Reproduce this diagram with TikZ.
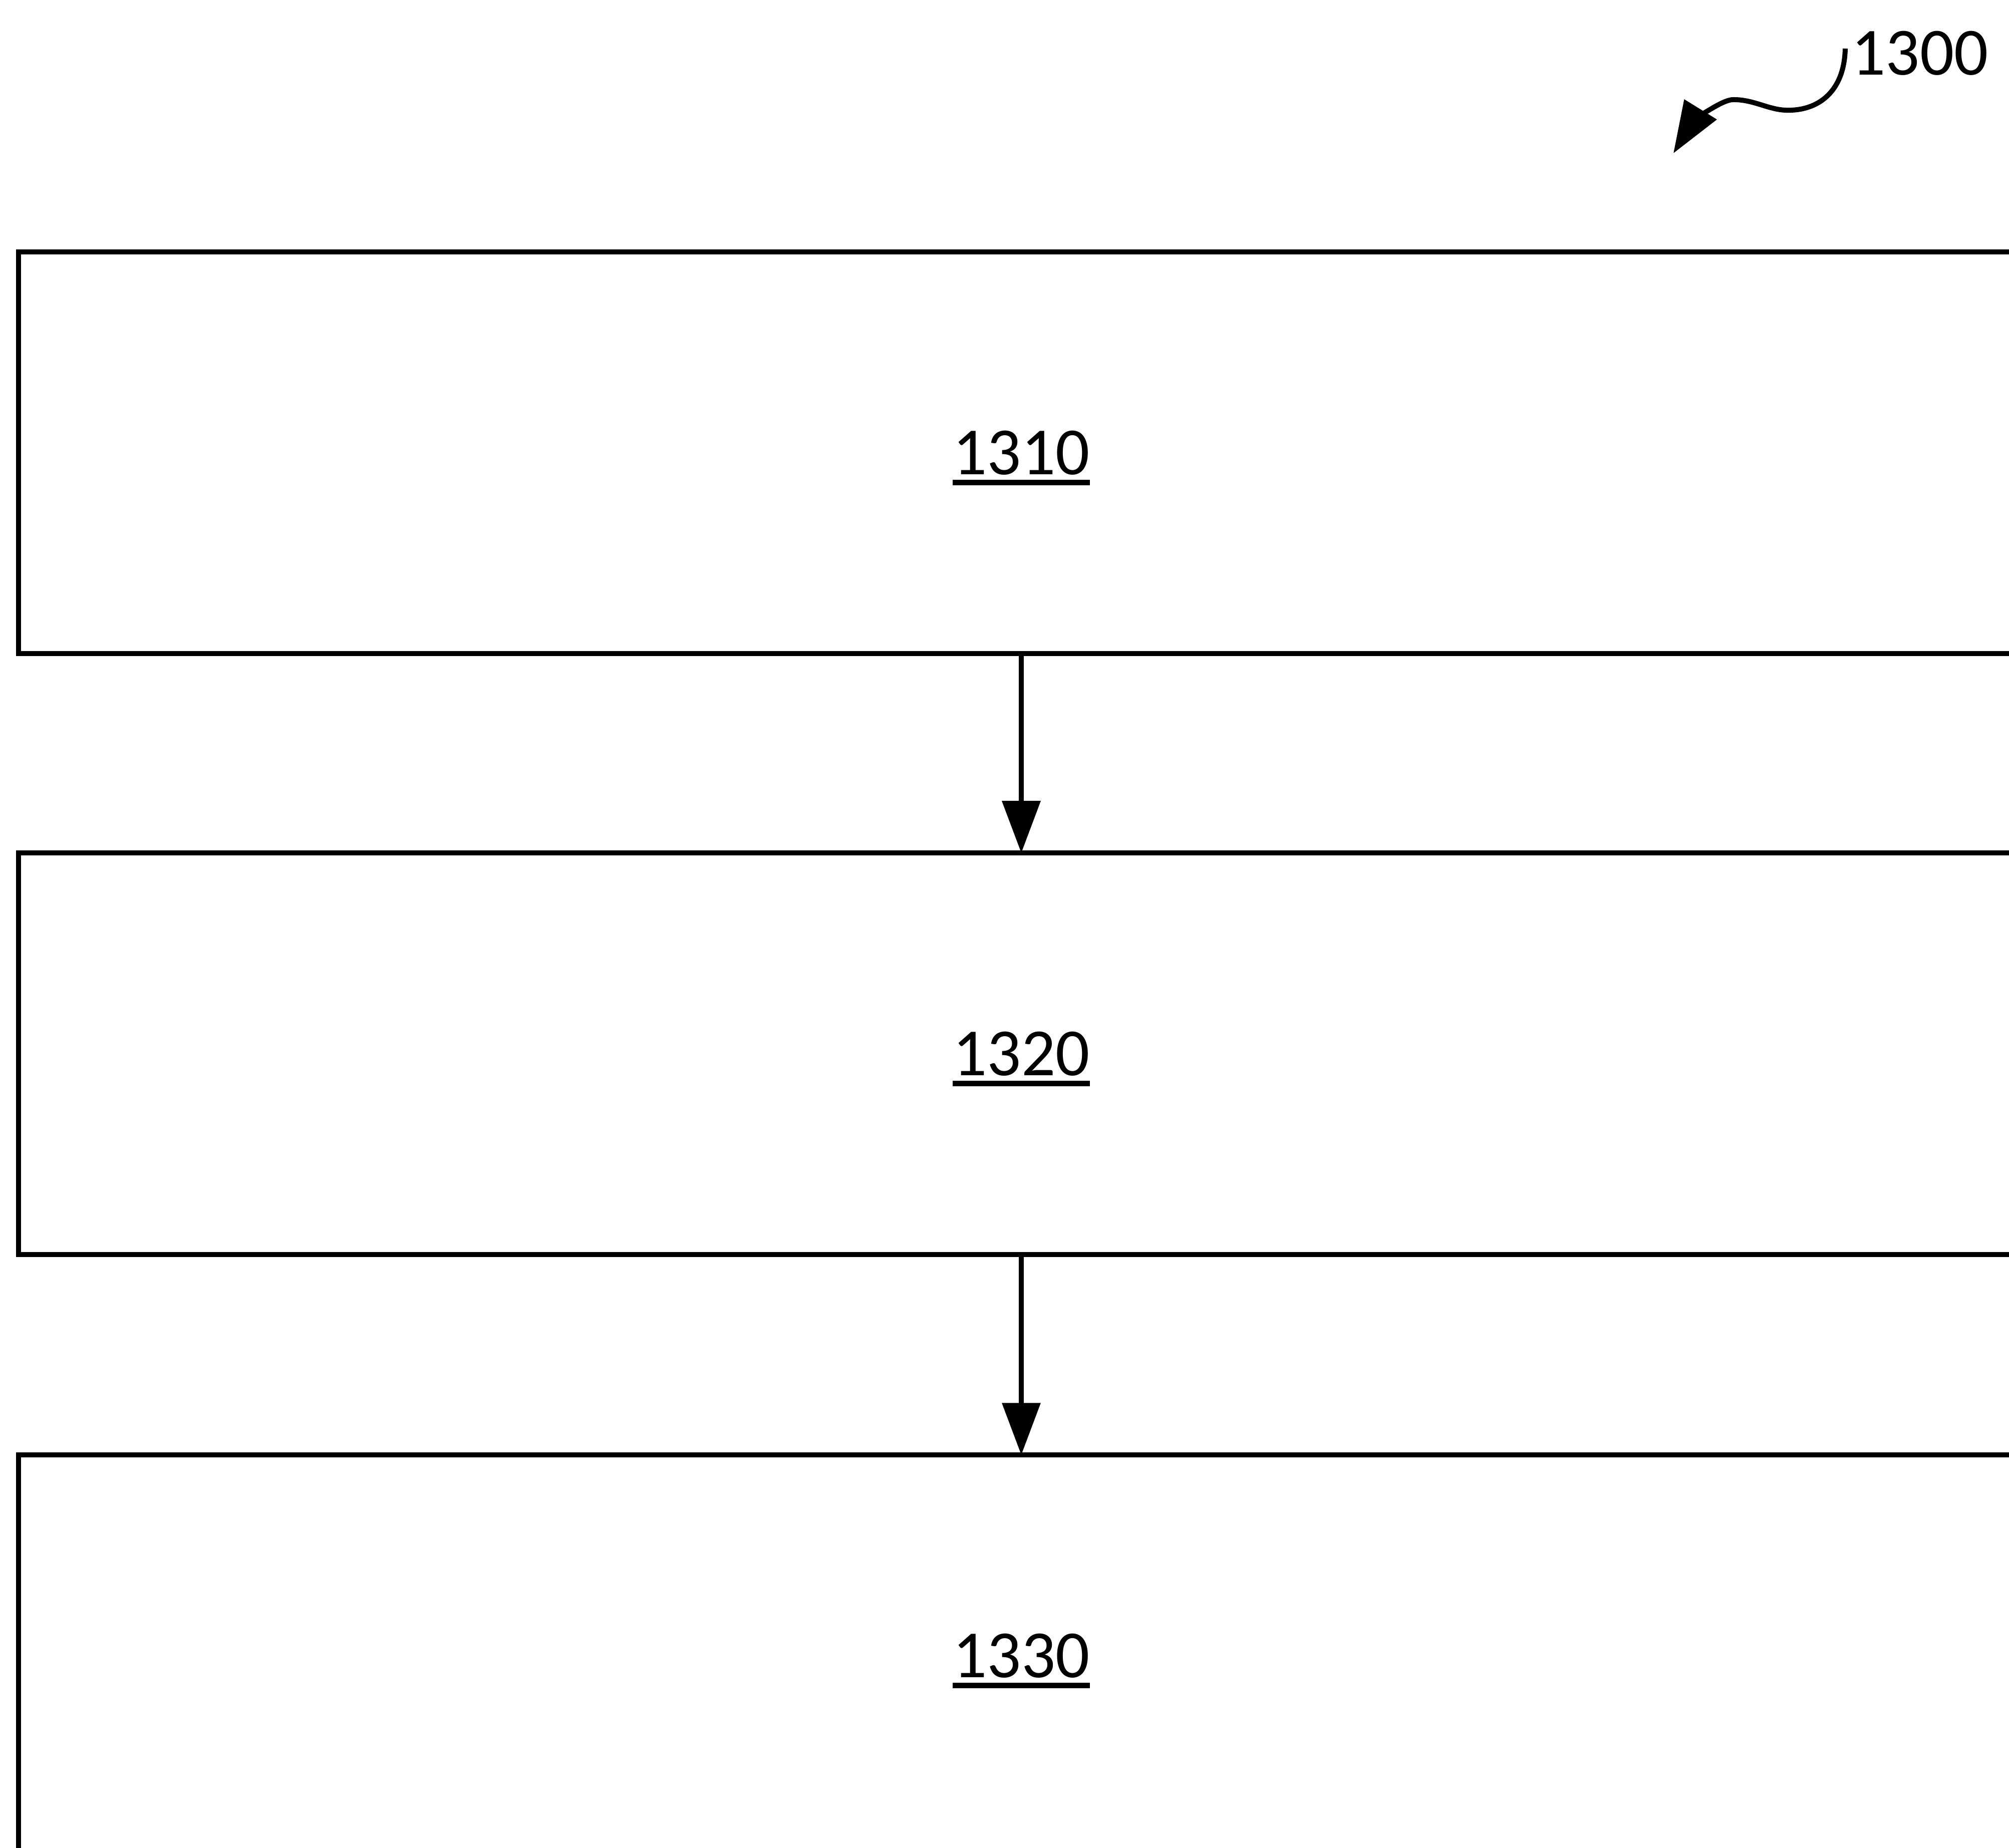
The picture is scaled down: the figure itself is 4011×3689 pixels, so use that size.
\documentclass[tikz,border=0pt]{standalone}
\usepackage{fontspec}
\setmainfont{Carlito}
\usetikzlibrary{arrows.meta}
\newcommand\ulnum[1]{\setbox0\hbox{#1}\leavevmode\rlap{\smash{\rule[-0.22cm]{\wd0}{0.11cm}}}\box0}
\tikzset{
  stepbox/.style={draw=black, line width=0.1cm, rectangle, inner sep=0pt, outer sep=0pt,
    minimum width=40.02cm, minimum height=8.01cm,
    font=\fontsize{38.3}{46}\selectfont},
  conn/.style={draw=black, line width=0.1cm, -{Triangle[length=1.04cm,width=0.75cm]}},
  refarrow/.style={draw=black, line width=0.1cm, -{Triangle[length=1.03cm,width=0.74cm]}},
  reflabel/.style={inner sep=0pt, outer sep=0pt, font=\fontsize{38.3}{46}\selectfont}
}
\begin{document}
\begin{tikzpicture}[x=0.01cm,y=-0.01cm]
\useasboundingbox (0,0) rectangle (4011,3689);
\fill[white] (0,0) rectangle (4011,3689);
\clip (0,0) rectangle (4011,3689);
\node[stepbox] (b1) at (2039,904) {\ulnum{1310}};
\node[stepbox] (b2) at (2039,2104) {\ulnum{1320}};
\node[stepbox] (b3) at (2039,3306) {\ulnum{1330}};
\draw[conn] (b1.south) -- (b2.north);
\draw[conn] (b2.south) -- (b3.north);
\node[reflabel] (lbl) at (3833,106) {1300};
\coordinate (sq0) at (3684,97);
\coordinate (tipend) at (3341,306);
\draw[refarrow] (sq0)
  .. controls (3682,185) and (3628,222) .. (3566,220)
  .. controls (3530,219) and (3500,198) .. (3459,199)
  .. controls (3430,201) and (3375,251) .. (tipend);
\end{tikzpicture}
\end{document}
